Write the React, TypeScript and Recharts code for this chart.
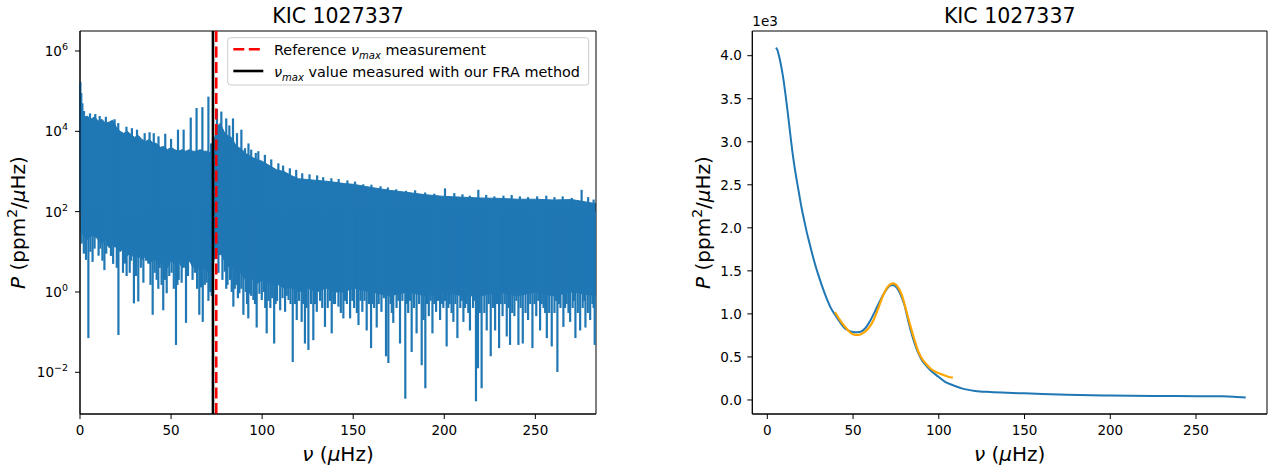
import { ComposedChart, Area, Line, XAxis, YAxis, ReferenceLine, ReferenceArea } from "recharts";

const FONT = "'DejaVu Sans', sans-serif";
const BLUE = "#1f77b4";
const ORANGE = "#ffa500";

// ---- left panel: power spectrum (ppm^2/uHz), log axis ----
// dense band of the spectrum: lower / upper edge of the solid part
const SPEC_NU = [0.3, 2, 4, 6, 8, 10, 12, 14, 16, 18, 20, 22, 24, 26, 28, 30, 32, 34, 36, 38, 40, 42, 44, 46, 48, 50, 52, 54, 56, 58, 60, 62, 64, 66, 68, 70, 72, 73.5, 75, 77, 79, 81, 83, 85, 87, 89, 91, 93, 95, 97, 100, 104, 108, 112, 116, 120, 125, 130, 135, 140, 145, 150, 160, 170, 180, 190, 200, 210, 220, 230, 240, 250, 260, 270, 283.2];
const SPEC_HI = [3.2e4, 2.2e4, 2.4e4, 2.0e4, 2.3e4, 1.8e4, 2.0e4, 1.6e4, 1.7e4, 1.9e4, 1.26e4, 1.0e4, 8.9e3, 1.0e4, 8.3e3, 7.1e3, 7.9e3, 6.3e3, 5.6e3, 6.3e3, 5.2e3, 5.0e3, 4.0e3, 4.2e3, 3.5e3, 4.0e3, 3.5e3, 3.2e3, 3.5e3, 3.2e3, 3.5e3, 3.2e3, 3.2e3, 3.5e3, 3.2e3, 3.2e3, 2.8e3, 5.0e3, 1.26e4, 1.6e4, 1.0e4, 7.9e3, 7.1e3, 5.0e3, 4.0e3, 3.5e3, 2.8e3, 2.5e3, 2.2e3, 2.0e3, 1.8e3, 1.4e3, 1.1e3, 1.0e3, 790, 660, 630, 600, 575, 540, 500, 480, 400, 340, 300, 263, 240, 229, 219, 214, 204, 204, 195, 200, 158];
const SPEC_LO = [32, 25, 20, 25, 25, 20, 16, 20, 12.6, 16, 12.6, 10, 12.6, 7.9, 10, 6.3, 7.9, 6.3, 7.9, 5, 6.3, 6.3, 5, 6.3, 4, 6.3, 5, 6.3, 4, 5, 6.3, 4, 5, 3.2, 4, 3.2, 2.5, 6.3, 7.9, 10, 6.3, 4, 5, 3.2, 4, 2.5, 2, 2.5, 2, 1.6, 2, 1.6, 1.6, 1.26, 1.26, 1, 1.26, 1, 1.26, 1, 1, 1.26, 1, 0.8, 1, 0.8, 1, 0.8, 0.8, 1, 0.8, 1, 0.8, 1, 0.8];

// single-bin dips below the band [nu, P]
const SPEC_DIPS: [number, number][] = [
  [0.9, 16], [2.1, 9], [3.3, 6.3], [4.6, 0.071], [5.7, 10], [6.9, 5.6], [8.0, 12], [9.1, 24], [10.2, 8], [11.2, 12], [12.3, 6], [13.4, 3.5], [14.4, 9], [15.5, 14], [17.0, 7.9], [18.2, 5], [19.2, 13],
  [20.2, 4], [21.1, 0.085], [22.5, 11], [23.6, 3], [24.7, 5.1], [25.6, 2.5], [26.5, 16], [27.3, 3], [28.1, 6], [29.6, 0.52], [30.8, 2.5], [32.0, 0.58], [33.4, 4], [34.8, 1.7], [36.2, 6],
  [37.5, 5.1], [38.7, 1.5], [39.9, 0.27], [41.0, 3], [42.1, 2.0], [43.0, 1.2], [43.8, 4], [44.8, 1.5], [45.7, 0.35], [46.6, 2], [47.6, 0.93], [49.0, 2.5], [50.3, 3.0], [51.5, 1.2], [52.7, 0.048],
  [53.5, 1.5], [54.2, 2], [55.8, 1.7], [57.0, 4], [58.2, 0.17], [59.3, 2.5], [60.4, 5.6], [61.8, 2], [63.1, 3.0], [64.3, 1.2], [65.5, 0.27], [66.5, 1.3],
  [67.4, 0.18], [68.5, 1.5], [69.5, 1.7], [70.5, 0.6], [71.4, 1.0], [72.3, 0.8], [76.0, 3], [76.9, 8.3], [78.2, 2], [79.5, 3.2], [80.3, 1.2], [81.0, 1.5],
  [82.4, 2.0], [83.3, 1], [84.2, 0.43], [85.0, 1.2], [85.8, 1.5], [86.7, 0.7], [87.5, 0.93], [88.6, 1.2], [89.7, 0.27], [91.0, 1], [91.7, 0.5], [92.4, 0.22], [93.2, 0.9], [94.0, 0.8], [95.2, 0.63],
  [96.1, 0.5], [97.0, 0.13], [98.5, 0.9], [99.8, 0.63], [101.0, 1], [101.7, 0.4], [102.5, 0.093], [103.5, 0.6], [104.5, 0.4], [105.5, 0.7], [106.6, 0.052], [107.4, 0.5], [108.2, 0.6], [109.9, 0.35],
  [111.2, 0.7], [112.6, 0.32], [113.5, 0.8], [114.5, 0.63], [115.6, 0.5], [116.8, 0.018], [118.0, 0.5], [119.0, 0.2], [120.3, 0.6], [121.7, 0.18], [122.6, 0.5], [123.5, 0.052],
  [124.4, 0.4], [125.4, 0.036], [126.8, 0.5], [128.1, 0.063], [129.0, 0.5], [130.0, 0.32], [131.8, 0.6], [133.0, 0.4], [134.5, 0.135], [136.0, 0.4], [137.2, 0.6], [138.2, 0.093], [139.2, 0.5], [140.0, 0.5],
  [141.9, 0.43], [143.2, 0.3], [144.6, 0.22], [145.5, 0.6], [146.5, 0.5], [148.3, 0.22], [149.5, 0.6], [150.5, 0.4], [152.0, 0.3], [152.9, 0.15], [154.0, 0.6], [155.0, 0.32],
  [156.2, 0.6], [157.4, 0.11], [158.6, 0.5], [159.8, 0.04], [160.6, 0.5], [161.5, 0.4], [162.9, 0.13], [164.0, 0.5], [165.5, 0.32], [166.8, 0.7], [168.0, 0.025],
  [169.3, 0.017], [170.5, 0.5], [171.2, 0.3], [172.0, 0.17], [173.8, 0.4], [174.8, 0.6], [175.7, 0.052], [177.0, 0.6], [178.6, 0.0022], [179.5, 0.5], [180.2, 0.3], [181.1, 0.6], [182.1, 0.032], [183.4, 0.4],
  [184.8, 0.093], [186.2, 0.5], [187.6, 0.015], [188.6, 0.2], [189.6, 0.004], [190.5, 0.5], [191.5, 0.25], [192.5, 0.6], [193.5, 0.093], [194.5, 0.5], [195.5, 0.32], [196.6, 0.6], [197.7, 0.2],
  [198.6, 0.5], [199.5, 0.4], [200.4, 0.6], [201.3, 0.044], [202.2, 0.4], [203.0, 0.5], [204.0, 0.3], [205.0, 0.18], [206.1, 0.5], [207.2, 0.071], [208.8, 0.4], [209.6, 0.6], [210.5, 0.18], [211.4, 0.4], [212.3, 0.5], [213.2, 0.3], [214.1, 0.11], [215.8, 0.4],
  [216.6, 0.6], [217.4, 0.0019], [218.5, 0.0126], [219.5, 0.3], [220.5, 0.004], [222.0, 0.3], [223.3, 0.11], [224.4, 0.5], [225.5, 0.025], [226.8, 0.4], [227.9, 0.11], [229.0, 0.5], [230.1, 0.04], [231.0, 0.5], [232.0, 0.25],
  [233.2, 0.5], [234.3, 0.078], [235.2, 0.4], [236.1, 0.048], [237.3, 0.3], [238.5, 0.25], [239.6, 0.6], [240.7, 0.048], [241.9, 0.4], [243.1, 0.052], [244.6, 0.3], [246.0, 0.2], [247.2, 0.5], [248.4, 0.04],
  [249.5, 0.5], [250.5, 0.25], [251.6, 0.6], [252.6, 0.11], [253.5, 0.5], [254.5, 0.4], [255.4, 0.3], [256.3, 0.071], [257.6, 0.3], [259.0, 0.044], [260.5, 0.3], [261.3, 0.6], [262.1, 0.0102], [263.0, 0.5], [263.8, 0.4], [265.4, 0.135],
  [266.3, 0.4], [267.2, 0.5], [268.2, 0.3], [269.1, 0.18], [270.5, 0.4], [271.2, 0.6], [272.0, 0.071], [273.3, 0.3], [274.6, 0.11], [276.0, 0.4], [276.8, 0.6], [277.5, 0.13], [278.8, 0.3], [280.1, 0.2],
  [281.3, 0.5], [282.0, 0.4], [282.6, 0.048],
];

// single-bin peaks above the band [nu, P]
const SPEC_PEAKS: [number, number][] = [
  [0.2, 1.7e5], [0.7, 9e4], [1.3, 5e4], [2.2, 3.2e4], [5.5, 2.8e4], [8.4, 2.7e4], [10.8, 2.4e4], [14.2, 2.3e4], [19.0, 2.0e4], [21.0, 1.6e4],
  [25.5, 1.3e4], [28.5, 1.2e4], [31.3, 1.1e4], [35.5, 9e3], [38.2, 9.5e3], [40.5, 9e3], [43.1, 7.5e3], [46.8, 8.7e3], [50.0, 6.5e3], [53.8, 1.1e4],
  [56.9, 1.1e4], [60.8, 2.2e4], [64.0, 3.8e4], [67.2, 4.0e4], [70.5, 7.3e4], [72.0, 5e3], [75.2, 3.6e4], [77.6, 3.1e4], [80.3, 2.1e4], [82.0, 1.4e4],
  [84.0, 2.1e4], [86.2, 9e3], [88.6, 1.1e4], [90.6, 3.8e3], [92.5, 5e3], [94.0, 3.5e3], [96.5, 2.9e3], [97.9, 3.2e3], [101.5, 2.6e3], [105.0, 2e3],
  [108.9, 1.6e3], [111.5, 1.4e3], [115.2, 1.2e3], [118.7, 1.1e3], [122.0, 900], [126.0, 850], [130.2, 800], [133.5, 720], [138.0, 680], [142.0, 650],
  [146.8, 600], [151.0, 560], [155.5, 480], [160.0, 470], [165.0, 430], [169.0, 400], [173.6, 360], [179.0, 330], [184.0, 340], [189.5, 300],
  [194.5, 280], [200.4, 380], [205.5, 290], [210.0, 270], [214.0, 250], [218.7, 350], [223.0, 260], [227.5, 240], [232.5, 250], [237.0, 260],
  [241.5, 240], [246.0, 230], [251.0, 240], [256.0, 250], [260.5, 230], [265.0, 240], [270.0, 220], [275.4, 350], [279.0, 230], [282.0, 200],
];
const SPIKE_BASE = 100; // lies inside the dense band over the whole range

const NUMAX_REF = 74.8;
const NUMAX_FRA = 73.0;

const NU_TICKS = [0, 50, 100, 150, 200, 250];
const LOG_TICKS = [1e-2, 1, 1e2, 1e4, 1e6];
const LEFT_X = [0, 283.3];
const LEFT_Y = [9.15e-4, 3.15e6];

// ---- right panel: smoothed spectrum and fit, units of 1e3 ----
const SMOOTH_NU = [4.9, 5.8, 6.8, 7.8, 8.8, 9.8, 10.8, 11.8, 12.8, 13.8, 14.8, 15.8, 17.1, 18.5, 20.0, 21.5, 23.0, 24.5, 25.9, 27.8, 29.8, 32.0, 34.6, 37.0, 39.5, 42.5, 45.3, 48.2, 51.2, 54, 57, 60, 62.8, 65.7, 68.7, 71, 73.2, 75.3, 77.4, 80, 82.3, 84.3, 86.2, 88.2, 90.1, 93, 95.9, 99.8, 103.7, 108.5, 113.4, 121.2, 130, 140, 150, 175, 200, 225, 250, 265, 272, 279];
const SMOOTH_P = [4.09, 4.07, 4.0, 3.91, 3.8, 3.67, 3.52, 3.36, 3.19, 3.02, 2.86, 2.72, 2.56, 2.40, 2.23, 2.09, 1.95, 1.83, 1.72, 1.58, 1.45, 1.32, 1.18, 1.07, 0.99, 0.9, 0.83, 0.80, 0.786, 0.79, 0.83, 0.92, 1.03, 1.15, 1.26, 1.32, 1.335, 1.31, 1.24, 1.1, 0.91, 0.76, 0.64, 0.54, 0.465, 0.39, 0.33, 0.27, 0.21, 0.17, 0.135, 0.105, 0.092, 0.083, 0.077, 0.06, 0.052, 0.047, 0.044, 0.042, 0.038, 0.028];
const FIT_NU = [39.5, 42, 45.3, 48, 50.5, 53.1, 56, 58.9, 62, 64.7, 67, 69.7, 71.8, 73.6, 75.5, 78.4, 81, 83.3, 85.8, 88.1, 90.5, 93, 95.5, 97.8, 100, 102.7, 105.5, 108.2];
const FIT_P = [1.02, 0.94, 0.85, 0.79, 0.76, 0.755, 0.78, 0.83, 0.93, 1.065, 1.19, 1.30, 1.345, 1.355, 1.33, 1.22, 1.04, 0.87, 0.7, 0.56, 0.47, 0.41, 0.36, 0.33, 0.31, 0.29, 0.27, 0.26];
const LIN_TICKS = [0, 0.5, 1, 1.5, 2, 2.5, 3, 3.5, 4];
const RIGHT_X = [-8.75, 291.4];
const RIGHT_Y = [-0.163, 4.287];

const bandData = SPEC_NU.map((nu, i) => ({ nu, band: [SPEC_LO[i], SPEC_HI[i]] }));
const smoothData = SMOOTH_NU.map((nu, i) => ({ nu, p: SMOOTH_P[i] }));
const fitData = FIT_NU.map((nu, i) => ({ nu, p: FIT_P[i] }));

const tickStyle = { fill: "#000", fontSize: 13.5, fontFamily: FONT };

function LogTick({ x, y, payload }: any) {
  const exp = Math.round(Math.log10(payload.value));
  return (
    <text x={x} y={y} textAnchor="end" fontFamily={FONT} fontSize={13.5} fill="#000">
      <tspan dy="0.36em">10</tspan>
      <tspan dy="-0.6em" fontSize={9.5}>{exp < 0 ? "\u2212" + Math.abs(exp) : String(exp)}</tspan>
    </text>
  );
}

const Nu = () => <tspan fontStyle="italic">ν</tspan>;
const Max = () => (
  <>
    <tspan dy={4} fontSize={10} fontStyle="italic">max</tspan>
    <tspan dy={-4}> </tspan>
  </>
);

export default function App() {
  return (
    <div style={{ position: "absolute", left: 0, top: 0, width: 1271, height: 469, background: "#fff", fontFamily: FONT }}>
      {/* left: periodogram */}
      <div style={{ position: "absolute", left: 0, top: 0 }}>
        <ComposedChart width={620} height={469} data={bandData} margin={{ top: 31, right: 24, bottom: 25, left: 20 }}>
          <XAxis dataKey="nu" type="number" domain={LEFT_X} allowDataOverflow ticks={NU_TICKS}
            tick={tickStyle} tickSize={5} tickMargin={6} height={30} stroke="#000" />
          <YAxis type="number" scale="log" domain={LEFT_Y} allowDataOverflow ticks={LOG_TICKS}
            tick={<LogTick />} tickSize={5} tickMargin={7} width={60} stroke="#000" />
          <Area dataKey="band" type="linear" stroke={BLUE} strokeWidth={1} fill={BLUE} fillOpacity={1}
            dot={false} activeDot={false} isAnimationActive={false} />
          {SPEC_DIPS.map(([nu, p], i) => (
            <ReferenceLine key={"d" + i} segment={[{ x: nu, y: SPIKE_BASE }, { x: nu, y: p }]} stroke={BLUE} strokeWidth={2.2} />
          ))}
          {SPEC_PEAKS.map(([nu, p], i) => (
            <ReferenceLine key={"p" + i} segment={[{ x: nu, y: SPIKE_BASE }, { x: nu, y: p }]} stroke={BLUE} strokeWidth={2.2} />
          ))}
          <ReferenceLine x={NUMAX_REF} stroke="#ff0000" strokeWidth={2.6} strokeDasharray="11 4.5" />
          <ReferenceLine x={NUMAX_FRA} stroke="#000" strokeWidth={2.6} />
          <ReferenceArea x1={LEFT_X[0]} x2={LEFT_X[1]} y1={LEFT_Y[0]} y2={LEFT_Y[1]} fill="none" stroke="#000" strokeWidth={1} />
        </ComposedChart>
      </div>

      {/* right: smoothed spectrum + fit */}
      <div style={{ position: "absolute", left: 640, top: 0 }}>
        <ComposedChart width={631} height={469} margin={{ top: 31, right: 4, bottom: 25, left: 52.3 }}>
          <XAxis dataKey="nu" type="number" domain={RIGHT_X} allowDataOverflow ticks={NU_TICKS}
            tick={tickStyle} tickSize={5} tickMargin={6} height={30} stroke="#000" />
          <YAxis type="number" domain={RIGHT_Y} allowDataOverflow ticks={LIN_TICKS}
            tickFormatter={(v: number) => v.toFixed(1)} tick={tickStyle} tickSize={5} tickMargin={5.5} width={60} stroke="#000" />
          <Line data={smoothData} dataKey="p" type="monotone" stroke={BLUE} strokeWidth={2} dot={false} activeDot={false} isAnimationActive={false} />
          <Line data={fitData} dataKey="p" type="monotone" stroke={ORANGE} strokeWidth={2.2} dot={false} activeDot={false} isAnimationActive={false} />
          <ReferenceArea x1={RIGHT_X[0]} x2={RIGHT_X[1]} y1={RIGHT_Y[0]} y2={RIGHT_Y[1]} fill="none" stroke="#000" strokeWidth={1} />
        </ComposedChart>
      </div>

      {/* titles, axis labels, legend */}
      <svg width={1271} height={469} style={{ position: "absolute", left: 0, top: 0, pointerEvents: "none" }} fontFamily={FONT}>
        <text x={338} y={22.7} textAnchor="middle" fontSize={20.5} fill="#000">KIC 1027337</text>
        <text x={1009.7} y={22.7} textAnchor="middle" fontSize={20.5} fill="#000">KIC 1027337</text>

        <text x={338} y={460.5} textAnchor="middle" fontSize={20} fill="#000">
          <Nu /> (<tspan fontStyle="italic">μ</tspan>Hz)
        </text>
        <text x={1009.7} y={460.5} textAnchor="middle" fontSize={20} fill="#000">
          <Nu /> (<tspan fontStyle="italic">μ</tspan>Hz)
        </text>

        <text transform="translate(25,222.5) rotate(-90)" textAnchor="middle" fontSize={20} fill="#000">
          <tspan fontStyle="italic">P</tspan> (ppm<tspan dy={-8} fontSize={14}>2</tspan><tspan dy={8}>/</tspan><tspan fontStyle="italic">μ</tspan>Hz)
        </text>
        <text transform="translate(710,222.5) rotate(-90)" textAnchor="middle" fontSize={20} fill="#000">
          <tspan fontStyle="italic">P</tspan> (ppm<tspan dy={-8} fontSize={14}>2</tspan><tspan dy={8}>/</tspan><tspan fontStyle="italic">μ</tspan>Hz)
        </text>

        <text x={752.3} y={26} fontSize={13.5} fill="#000">1e3</text>

        <rect x={227.7} y={37.7} width={361} height={47.3} rx={3} fill="#fff" fillOpacity={0.8} stroke="#cccccc" strokeWidth={1} />
        <line x1={233.3} y1={49.3} x2={263.3} y2={49.3} stroke="#ff0000" strokeWidth={2.6} strokeDasharray="11 4.5" />
        <line x1={233.3} y1={71} x2={263.3} y2={71} stroke="#000" strokeWidth={2.6} />
        <text x={274} y={54.8} fontSize={14.4} fill="#000">
          Reference <Nu /><Max />measurement
        </text>
        <text x={274} y={76.5} fontSize={14.4} fill="#000">
          <Nu /><Max />value measured with our FRA method
        </text>
      </svg>
    </div>
  );
}
